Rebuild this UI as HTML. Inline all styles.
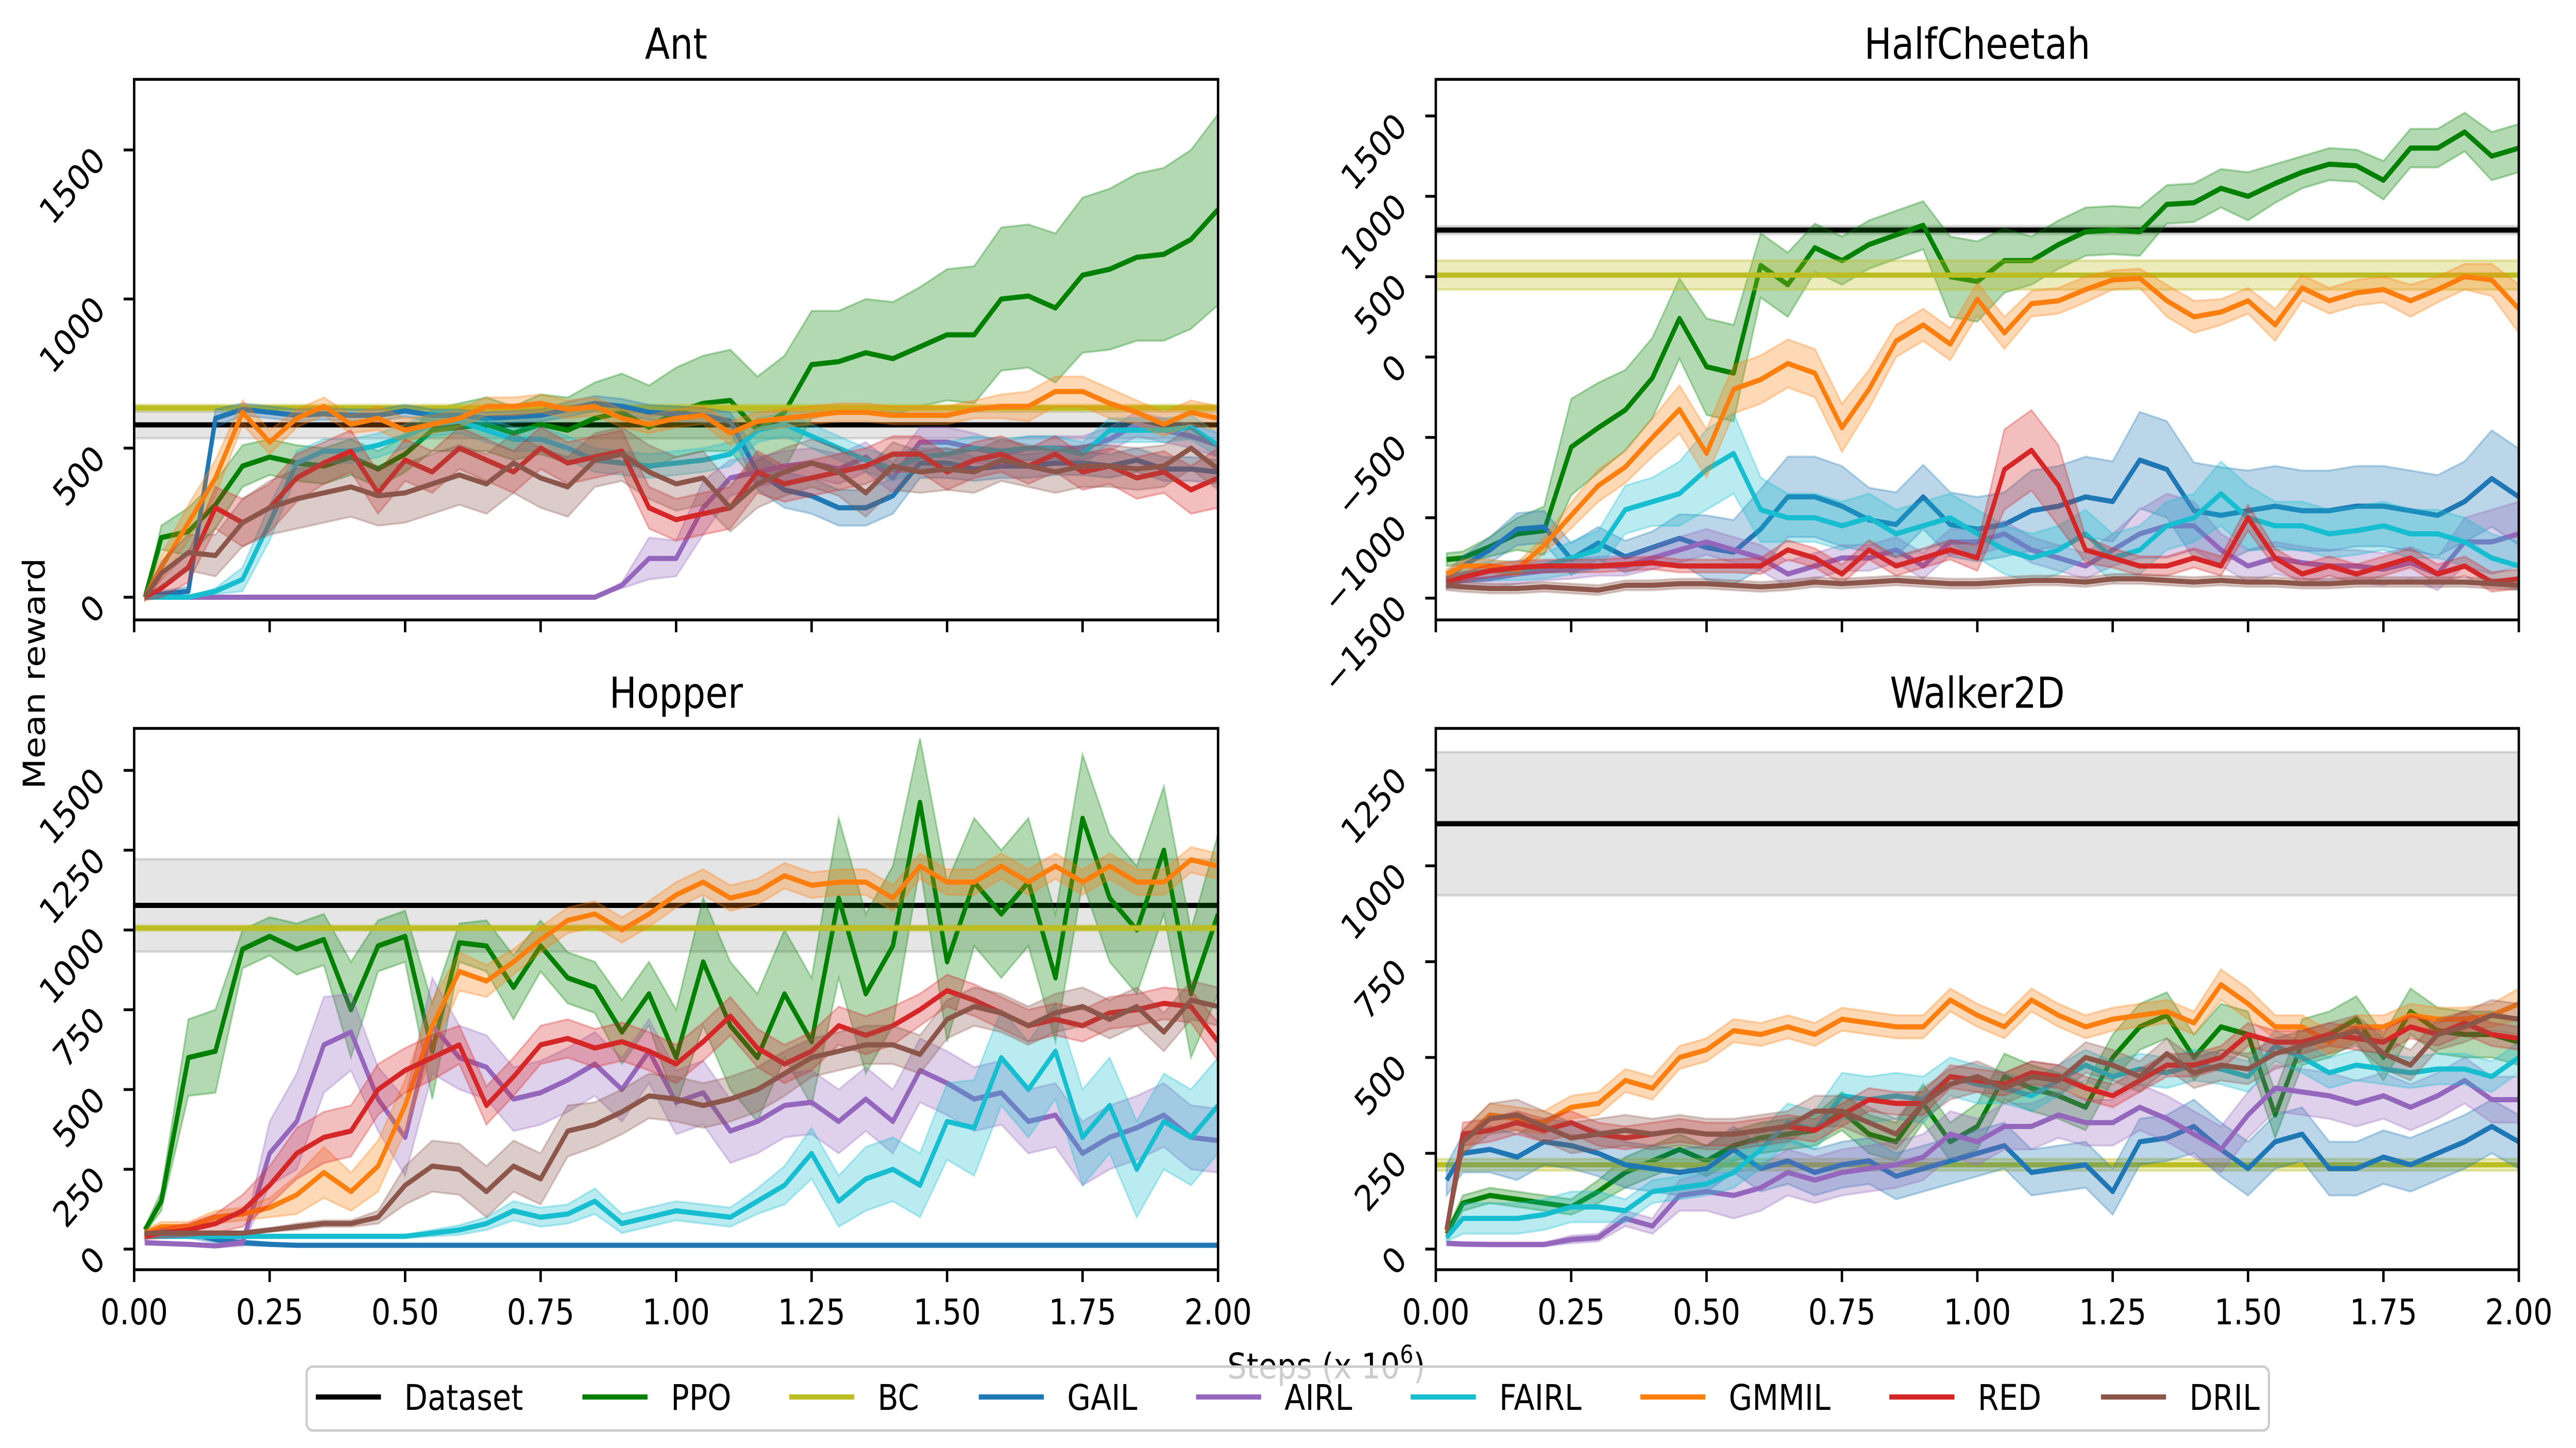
<!DOCTYPE html>
<html><head><meta charset="utf-8"><style>
html,body{margin:0;padding:0;background:#fff;overflow:hidden;width:100%;height:100%;}
svg{display:block;font-family:"DejaVu Sans","Liberation Sans",sans-serif;width:100vw;height:100vh;}
</style></head><body>
<svg id="chart" viewBox="0 0 5856 2810" preserveAspectRatio="none" xmlns="http://www.w3.org/2000/svg">
<rect x="0" y="0" width="5856" height="2810" fill="#fff"/>
<g id="plots"></g>
<text x="102" y="1307" font-size="69" text-anchor="middle" transform="rotate(-90 102 1307)">Mean reward</text>
<text x="3015" y="2675" font-size="69" text-anchor="middle">Steps (x 10<tspan font-size="48" dy="-30">6</tspan><tspan dy="30">)</tspan></text>
<g id="legend"></g>
</svg>
<script>
const steps=[0.02,0.05,0.1,0.15,0.2,0.25,0.3,0.35,0.4,0.45,0.5,0.55,0.6,0.65,0.7,0.75,0.8,0.85,0.9,0.95,1.0,1.05,1.1,1.15,1.2,1.25,1.3,1.35,1.4,1.45,1.5,1.55,1.6,1.65,1.7,1.75,1.8,1.85,1.9,1.95,2.0];
const methods=["Dataset","PPO","BC","GAIL","AIRL","FAIRL","GMMIL","RED","DRIL"];
const xTicks=[0,0.25,0.5,0.75,1.0,1.25,1.5,1.75,2.0];
const xTickLabels=["0.00","0.25","0.50","0.75","1.00","1.25","1.50","1.75","2.00"];

// Ant
const antDataset=[578,45];
const antBC=[635,10];
const antPPO=[0,200,220,310,440,470,450,440,470,430,480,560,570,580,550,580,560,600,620,570,620,650,660,560,620,780,790,820,800,840,880,880,1000,1010,970,1080,1100,1140,1150,1200,1300];
const antPPOStd=[0,40,80,80,70,60,60,60,60,60,60,70,80,90,90,100,110,120,130,140,150,160,170,180,190,180,170,180,190,200,220,230,240,240,250,260,270,280,290,300,320];
const antGAIL=[0,10,20,600,630,620,610,615,610,610,625,610,610,600,605,610,630,650,640,620,615,610,590,420,360,340,300,300,340,450,450,430,440,440,450,450,440,460,430,430,420];
const antGAILStd=[5,10,15,30,20,20,20,20,20,20,20,20,20,20,20,20,25,25,25,25,25,25,30,60,60,60,60,60,60,50,50,40,40,40,40,40,40,40,40,40,40];
const antAIRL=[0,0,0,0,0,0,0,0,0,0,0,0,0,0,0,0,0,0,40,130,130,300,400,420,440,450,430,470,400,520,520,500,480,500,500,500,530,580,560,540,510];
const antAIRLStd=[0,0,0,0,0,0,0,0,0,0,0,0,0,0,0,0,0,0,10,70,60,90,60,50,50,50,50,50,50,50,50,50,40,40,40,40,40,40,40,40,40];
const antFAIRL=[0,0,0,20,60,250,450,490,490,510,540,580,590,560,530,530,500,460,450,440,450,460,480,560,580,540,500,460,430,470,480,500,490,500,500,480,560,560,560,570,510];
const antFAIRLStd=[0,0,0,10,40,60,40,40,40,40,40,40,40,40,40,40,40,40,40,40,40,40,40,40,40,40,40,40,40,40,40,40,40,40,40,40,40,40,40,40,40];
const antGMMIL=[0,100,250,400,620,520,600,640,580,600,560,580,600,640,640,650,630,640,600,580,600,610,550,590,600,610,620,620,610,610,610,630,640,640,690,690,650,620,580,620,600];
const antGMMILStd=[10,40,60,60,40,40,30,30,30,40,40,30,30,30,30,30,30,30,30,30,30,30,40,30,30,30,30,30,30,30,30,30,40,50,50,50,50,40,40,40,40];
const antRED=[0,30,100,300,250,300,400,450,490,350,460,420,500,460,420,500,450,470,490,300,260,280,300,420,380,400,420,440,480,480,420,460,480,440,480,420,440,400,420,360,400];
const antREDStd=[10,30,50,70,80,80,80,70,70,70,70,70,70,70,70,70,70,70,70,70,70,70,70,70,60,60,60,60,60,60,60,60,60,60,60,60,60,70,70,80,100];
const antDRIL=[0,80,150,140,250,300,330,350,370,340,350,380,410,380,450,400,370,460,480,420,380,400,300,380,420,450,420,350,440,420,430,420,460,440,420,440,440,430,440,500,430];
const antDRILStd=[10,40,60,70,80,90,100,100,100,100,100,100,100,100,100,100,100,90,90,90,90,90,80,80,80,80,80,80,80,70,70,70,70,70,70,70,70,70,70,70,70];

// HalfCheetah
const hcDataset=[790,25];
const hcBC=[510,90];
const hcPPO=[-1260,-1250,-1180,-1100,-1080,-560,-440,-330,-130,240,-60,-100,570,450,680,600,700,760,820,500,470,600,600,700,780,790,780,950,960,1050,1000,1080,1150,1200,1190,1100,1300,1300,1400,1250,1300];
const hcPPOStd=[40,40,60,100,150,300,280,250,250,250,300,300,200,200,150,150,150,150,150,250,250,200,150,150,150,150,150,120,120,120,150,120,100,100,100,120,120,120,120,150,150];
const hcGAIL=[-1380,-1300,-1200,-1071,-1057,-1257,-1157,-1243,-1185,-1128,-1185,-1214,-1071,-870,-870,-928,-1013,-1042,-870,-1042,-1071,-1042,-956,-928,-870,-899,-641,-699,-956,-985,-956,-928,-956,-956,-928,-928,-956,-985,-899,-756,-870];
const hcGAILStd=[40,60,80,100,100,100,100,100,100,150,200,200,250,250,250,250,200,200,200,200,200,200,250,250,250,250,300,300,300,300,250,250,250,250,250,250,250,250,250,300,300];
const hcAIRL=[-1400,-1390,-1380,-1350,-1330,-1320,-1300,-1300,-1250,-1200,-1150,-1200,-1250,-1350,-1300,-1250,-1250,-1200,-1300,-1150,-1150,-1100,-1200,-1250,-1300,-1200,-1100,-1050,-1050,-1200,-1300,-1250,-1280,-1300,-1300,-1320,-1280,-1350,-1150,-1150,-1100];
const hcAIRLStd=[40,50,60,60,60,60,60,60,70,80,80,80,80,80,80,80,80,80,80,80,80,80,80,80,80,100,150,200,150,100,100,100,100,100,100,100,100,100,150,200,200];
const hcFAIRL=[-1400,-1350,-1330,-1330,-1300,-1250,-1200,-950,-900,-850,-700,-600,-950,-1000,-1000,-1050,-1000,-1100,-1050,-1000,-1100,-1200,-1250,-1200,-1100,-1250,-1200,-1050,-1000,-850,-1000,-1050,-1050,-1100,-1080,-1050,-1100,-1100,-1150,-1250,-1300];
const hcFAIRLStd=[40,50,60,60,80,100,120,150,150,200,250,250,200,150,150,150,150,150,150,150,150,150,150,150,150,150,150,150,150,200,200,150,150,150,150,150,150,150,150,150,150];
const hcGMMIL=[-1350,-1300,-1300,-1320,-1171,-985,-800,-684,-500,-326,-600,-200,-140,-40,-100,-440,-200,100,200,80,360,150,332,350,420,480,490,350,250,280,350,200,430,350,400,420,350,420,500,480,300];
const hcGMMILStd=[30,40,40,40,50,80,100,100,120,150,150,150,150,150,150,150,120,100,100,100,100,100,80,80,80,60,60,100,100,80,80,100,80,80,80,80,100,80,80,100,150];
const hcRED=[-1400,-1370,-1330,-1310,-1300,-1300,-1300,-1290,-1280,-1300,-1300,-1300,-1300,-1200,-1250,-1350,-1200,-1300,-1250,-1200,-1250,-700,-580,-800,-1200,-1250,-1300,-1300,-1250,-1300,-1000,-1250,-1350,-1300,-1350,-1300,-1250,-1350,-1300,-1400,-1380];
const hcREDStd=[30,30,40,40,40,40,40,40,40,40,40,40,50,60,60,60,60,60,60,60,80,250,250,250,80,60,60,60,60,60,80,60,60,60,60,60,60,60,60,60,60];
const hcDRIL=[-1420,-1430,-1440,-1440,-1430,-1440,-1450,-1420,-1420,-1410,-1410,-1420,-1430,-1420,-1400,-1410,-1400,-1390,-1400,-1410,-1410,-1400,-1390,-1390,-1400,-1380,-1380,-1390,-1400,-1390,-1400,-1400,-1410,-1410,-1400,-1400,-1400,-1400,-1400,-1410,-1420];
const hcDRILStd=[30,30,30,30,30,30,30,30,30,30,30,30,30,30,30,30,30,30,30,30,30,30,30,30,30,30,30,30,30,30,30,30,30,30,30,30,30,30,30,30,30];

// Hopper
const hopDataset=[1077,145];
const hopBC=[1006,8];
const hopPPO=[60,150,600,620,940,980,940,970,750,950,980,620,960,950,820,950,850,820,680,800,600,900,700,600,800,650,1100,800,950,1400,900,1150,1050,1150,850,1350,1100,1000,1250,800,1050];
const hopPPOStd=[10,30,120,130,60,60,80,80,150,80,80,150,60,80,100,80,80,80,100,100,150,200,200,200,200,200,250,250,250,200,250,200,200,200,200,200,200,200,200,200,250];
const hopGAIL=[40,60,50,30,20,15,12,12,12,12,12,12,12,12,12,12,12,12,12,12,12,12,12,12,12,12,12,12,12,12,12,12,12,12,12,12,12,12,12,12,12];
const hopGAILStd=[10,15,15,10,8,5,4,4,4,4,4,4,4,4,4,4,4,4,4,4,4,4,4,4,4,4,4,4,4,4,4,4,4,4,4,4,4,4,4,4,4];
const hopAIRL=[20,18,15,10,20,300,400,640,680,470,350,700,600,570,470,490,530,580,500,620,460,490,370,400,450,460,400,470,400,560,520,470,490,400,420,300,350,380,420,350,340];
const hopAIRLStd=[5,5,5,5,10,100,150,150,120,100,120,150,100,100,100,100,100,100,100,100,100,100,100,100,100,100,100,100,100,100,100,100,100,100,100,100,100,100,100,100,100];
const hopFAIRL=[40,40,40,40,40,40,40,40,40,40,40,50,60,80,120,100,110,150,80,100,120,110,100,150,200,300,150,220,250,200,400,380,600,500,620,350,450,250,400,350,450];
const hopFAIRLStd=[5,5,5,5,5,5,5,5,5,5,5,10,15,20,30,30,30,40,30,30,30,30,30,40,60,80,80,100,100,100,120,150,150,150,150,150,150,150,150,150,150];
const hopGMMIL=[50,70,70,100,110,130,170,240,180,260,450,700,870,840,900,970,1030,1050,1000,1050,1110,1150,1100,1120,1170,1140,1150,1150,1100,1200,1150,1150,1200,1150,1200,1150,1200,1150,1150,1220,1200];
const hopGMMILStd=[10,15,15,20,20,30,60,80,60,80,80,80,60,50,40,40,40,40,40,40,40,40,40,40,40,40,40,40,40,40,40,40,40,40,40,40,40,40,40,40,40];
const hopRED=[40,50,60,80,120,200,300,350,370,500,560,600,640,450,540,640,660,630,650,620,580,650,730,630,580,620,700,670,700,750,810,780,740,700,720,700,740,750,770,760,650];
const hopREDStd=[10,15,20,30,50,60,80,80,80,80,70,70,60,60,60,60,60,60,60,60,60,60,60,60,60,60,60,60,60,50,50,50,50,50,50,50,50,50,50,50,60];
const hopDRIL=[50,50,50,50,50,60,70,80,80,100,200,260,250,180,260,220,370,390,430,480,470,450,470,500,550,600,620,640,640,610,720,760,740,700,740,760,720,760,680,780,760];
const hopDRILStd=[5,5,5,5,5,5,10,10,10,20,60,80,80,80,80,80,80,70,70,70,70,70,70,70,70,60,60,60,60,60,60,60,60,60,60,60,60,60,60,60,60];

// Walker2D
const wkDataset=[1110,187];
const wkBC=[220,15];
const wkPPO=[40,120,140,130,120,110,150,200,230,260,230,270,290,300,310,360,300,280,380,280,320,450,420,400,370,500,580,610,500,580,560,350,540,560,600,500,620,570,560,560,540];
const wkPPOStd=[10,20,20,20,20,20,30,40,40,40,40,40,40,40,40,50,50,50,50,50,60,60,60,60,60,60,60,60,60,60,60,60,60,60,60,60,60,60,60,60,60];
const wkGAIL=[180,250,260,240,280,270,250,220,210,200,210,260,210,230,200,220,230,190,210,230,250,270,200,210,220,150,280,290,320,260,210,280,300,210,210,240,220,250,280,320,280];
const wkGAILStd=[40,50,60,60,60,60,60,60,60,60,60,60,60,60,60,60,60,60,60,60,60,60,60,60,60,60,60,60,70,70,70,70,70,70,70,70,70,70,70,70,70];
const wkAIRL=[15,13,12,12,12,25,30,80,60,140,150,140,160,200,180,200,210,220,240,300,280,320,320,350,330,330,370,340,300,260,350,420,410,400,380,400,370,400,440,390,390];
const wkAIRLStd=[5,5,5,5,5,10,10,20,20,40,50,60,60,60,60,60,60,60,60,60,60,60,60,60,60,60,60,60,60,60,60,60,60,60,60,60,60,60,60,60,60];
const wkFAIRL=[30,80,80,80,90,110,110,100,150,160,170,200,260,330,310,400,390,400,390,450,430,420,400,440,480,450,470,460,480,470,450,530,500,460,480,470,460,470,470,450,500];
const wkFAIRLStd=[10,40,40,40,40,40,40,30,30,30,30,40,50,50,50,60,60,60,60,50,50,40,40,40,40,40,40,40,40,40,40,40,40,40,40,40,40,40,40,40,40];
const wkGMMIL=[50,280,350,340,330,370,380,440,420,500,520,570,560,580,560,600,590,580,580,650,610,580,650,610,580,600,610,620,590,690,640,580,580,540,580,580,610,600,600,610,640];
const wkGMMILStd=[10,30,30,30,30,30,30,30,30,30,30,30,30,30,30,30,30,30,30,30,30,30,30,30,30,30,30,30,30,40,40,30,30,30,30,30,30,30,30,30,40];
const wkRED=[50,300,310,330,310,330,300,290,300,310,300,300,310,320,310,350,390,380,380,450,440,430,460,450,420,400,440,480,480,500,560,540,540,560,550,540,580,560,590,560,550];
const wkREDStd=[10,30,30,30,30,30,30,30,30,30,30,30,30,30,30,30,30,30,30,30,30,30,30,30,30,30,30,30,30,30,30,30,30,30,30,30,30,30,30,30,30];
const wkDRIL=[50,280,340,350,320,290,300,310,300,310,300,300,310,320,360,360,330,300,380,430,450,420,450,440,500,480,450,510,460,480,470,510,530,550,570,510,480,560,580,610,600];
const wkDRILStd=[10,30,40,40,40,40,40,40,40,40,40,40,40,40,40,40,40,40,40,40,40,40,40,40,40,40,40,40,40,40,40,40,40,40,40,40,40,40,40,40,40];

const colors={Dataset:"#000000",PPO:"#008000",BC:"#bcbd22",GAIL:"#1f77b4",AIRL:"#9467bd",FAIRL:"#17becf",GMMIL:"#ff7f0e",RED:"#d62728",DRIL:"#8c564b"};

const panels=[
 {name:"ant",title:"Ant",x0:305,x1:2769,top:154,bottom:1203,zeroPix:1159,scale:0.5787,yTicks:[0,500,1000,1500],xLabels:false,
  dataset:antDataset,bc:antBC,series:{PPO:[antPPO,antPPOStd],GAIL:[antGAIL,antGAILStd],AIRL:[antAIRL,antAIRLStd],FAIRL:[antFAIRL,antFAIRLStd],GMMIL:[antGMMIL,antGMMILStd],RED:[antRED,antREDStd],DRIL:[antDRIL,antDRILStd]}},
 {name:"halfcheetah",title:"HalfCheetah",x0:3264,x1:5726,top:154,bottom:1203,zeroPix:692.9,scale:0.3119,yTicks:[-1500,-1000,-500,0,500,1000,1500],xLabels:false,
  dataset:hcDataset,bc:hcBC,series:{PPO:[hcPPO,hcPPOStd],GAIL:[hcGAIL,hcGAILStd],AIRL:[hcAIRL,hcAIRLStd],FAIRL:[hcFAIRL,hcFAIRLStd],GMMIL:[hcGMMIL,hcGMMILStd],RED:[hcRED,hcREDStd],DRIL:[hcDRIL,hcDRILStd]}},
 {name:"hopper",title:"Hopper",x0:305,x1:2769,top:1413.5,bottom:2464,zeroPix:2424,scale:0.6193,yTicks:[0,250,500,750,1000,1250,1500],xLabels:true,
  dataset:hopDataset,bc:hopBC,series:{PPO:[hopPPO,hopPPOStd],GAIL:[hopGAIL,hopGAILStd],AIRL:[hopAIRL,hopAIRLStd],FAIRL:[hopFAIRL,hopFAIRLStd],GMMIL:[hopGMMIL,hopGMMILStd],RED:[hopRED,hopREDStd],DRIL:[hopDRIL,hopDRILStd]}},
 {name:"walker2d",title:"Walker2D",x0:3264,x1:5726,top:1413.5,bottom:2464,zeroPix:2424,scale:0.7437,yTicks:[0,250,500,750,1000,1250],xLabels:true,
  dataset:wkDataset,bc:wkBC,series:{PPO:[wkPPO,wkPPOStd],GAIL:[wkGAIL,wkGAILStd],AIRL:[wkAIRL,wkAIRLStd],FAIRL:[wkFAIRL,wkFAIRLStd],GMMIL:[wkGMMIL,wkGMMILStd],RED:[wkRED,wkREDStd],DRIL:[wkDRIL,wkDRILStd]}}
];

const NS="http://www.w3.org/2000/svg";
function mk(tag,attrs,parent){const e=document.createElementNS(NS,tag);for(const k in attrs)e.setAttribute(k,attrs[k]);if(parent)parent.appendChild(e);return e;}
const root=document.getElementById("plots");

panels.forEach((p,pi)=>{
  const g=mk("g",{},root);
  
  
  const xs=v=>p.x0+(v/2)*(p.x1-p.x0);
  const ys=v=>p.zeroPix-v*p.scale;
  const clipId="clip"+pi;
  const defs=mk("defs",{},g);
  const cp=mk("clipPath",{id:clipId},defs);
  mk("rect",{x:p.x0,y:p.top,width:p.x1-p.x0,height:p.bottom-p.top},cp);
  const plot=mk("g",{"clip-path":"url(#"+clipId+")"},g);
  
  

  function hband(arr,color,name,fillOp){
    const b=mk("rect",{x:p.x0,y:ys(arr[0]+arr[1]),width:p.x1-p.x0,height:Math.max(1,ys(arr[0]-arr[1])-ys(arr[0]+arr[1])),fill:color,"fill-opacity":fillOp,stroke:color,"stroke-opacity":fillOp*1.2,"stroke-width":5},plot);
    
    
  }
  function hline(arr,color,name){
    const l=mk("line",{x1:p.x0,x2:p.x1,y1:ys(arr[0]),y2:ys(arr[0]),stroke:color,"stroke-width":10},plot);
    
    
  }
  hband(p.dataset,"#000000","dataset",0.1);
  hline(p.dataset,"#000000","dataset");

  const order=["PPO","BC","GAIL","AIRL","FAIRL","GMMIL","RED","DRIL"];
  order.forEach(m=>{
    if(m==="BC"){hband(p.bc,colors.BC,"bc",0.3);hline(p.bc,colors.BC,"bc");return;}
    const [mean,sd]=p.series[m];
    let up="",lo="";
    for(let i=0;i<steps.length;i++){up+=(i?"L":"M")+xs(steps[i]).toFixed(1)+","+ys(mean[i]+sd[i]).toFixed(1);}
    for(let i=steps.length-1;i>=0;i--){lo+="L"+xs(steps[i]).toFixed(1)+","+ys(mean[i]-sd[i]).toFixed(1);}
    const band=mk("path",{d:up+lo+"Z",fill:colors[m],"fill-opacity":0.3,stroke:colors[m],"stroke-opacity":0.3,"stroke-width":4},plot);
    
    
    let d="";
    for(let i=0;i<steps.length;i++){d+=(i?"L":"M")+xs(steps[i]).toFixed(1)+","+ys(mean[i]).toFixed(1);}
    const line=mk("path",{d:d,fill:"none",stroke:colors[m],"stroke-width":10,"stroke-linejoin":"round","stroke-linecap":"butt"},plot);
    
    
  });

  const fr=mk("rect",{x:p.x0,y:p.top,width:p.x1-p.x0,height:p.bottom-p.top,fill:"none",stroke:"#000","stroke-width":5.5},g);
  
  

  p.yTicks.forEach(v=>{
    const y=ys(v);
    const t=mk("line",{x1:p.x0-24,x2:p.x0,y1:y,y2:y,stroke:"#000","stroke-width":5.5},g);
    
    
    const px=p.x0-62, py=y+24;
    const lab=mk("text",{x:px,y:py,"font-size":69,"text-anchor":"end",transform:"rotate(-45 "+px+" "+py+")"},g);
    lab.textContent=(v<0?"\u2212"+Math.abs(v):String(v));
    
    
  });
  xTicks.forEach((v,i)=>{
    const x=xs(v);
    const t=mk("line",{x1:x,x2:x,y1:p.bottom,y2:p.bottom+24,stroke:"#000","stroke-width":5.5},g);
    
    
    if(p.xLabels){
      const lab=mk("text",{x:x,y:p.bottom+106,"font-size":69,"text-anchor":"middle"},g);
      lab.textContent=xTickLabels[i];
      
      
    }
  });
  const tt=mk("text",{x:(p.x0+p.x1)/2,y:p.top-40,"font-size":83,"text-anchor":"middle"},g);
  tt.textContent=p.title;
  
  
});

const lg=document.getElementById("legend");
const box=mk("rect",{x:697,y:2652,width:4461,height:124,rx:14,fill:"#fff","fill-opacity":0.8,stroke:"#cccccc","stroke-width":5},lg);


const legX=[718,1324,1794,2225,2719,3207,3729,4295,4776];
methods.forEach((m,i)=>{
  const eg=mk("g",{},lg);
  
  
  mk("line",{x1:legX[i],x2:legX[i]+148,y1:2711,y2:2711,stroke:colors[m],"stroke-width":10},eg);
  const t=mk("text",{x:legX[i]+201,y:2736,"font-size":69},eg);
  t.textContent=m;
});
</script>
</body></html>
